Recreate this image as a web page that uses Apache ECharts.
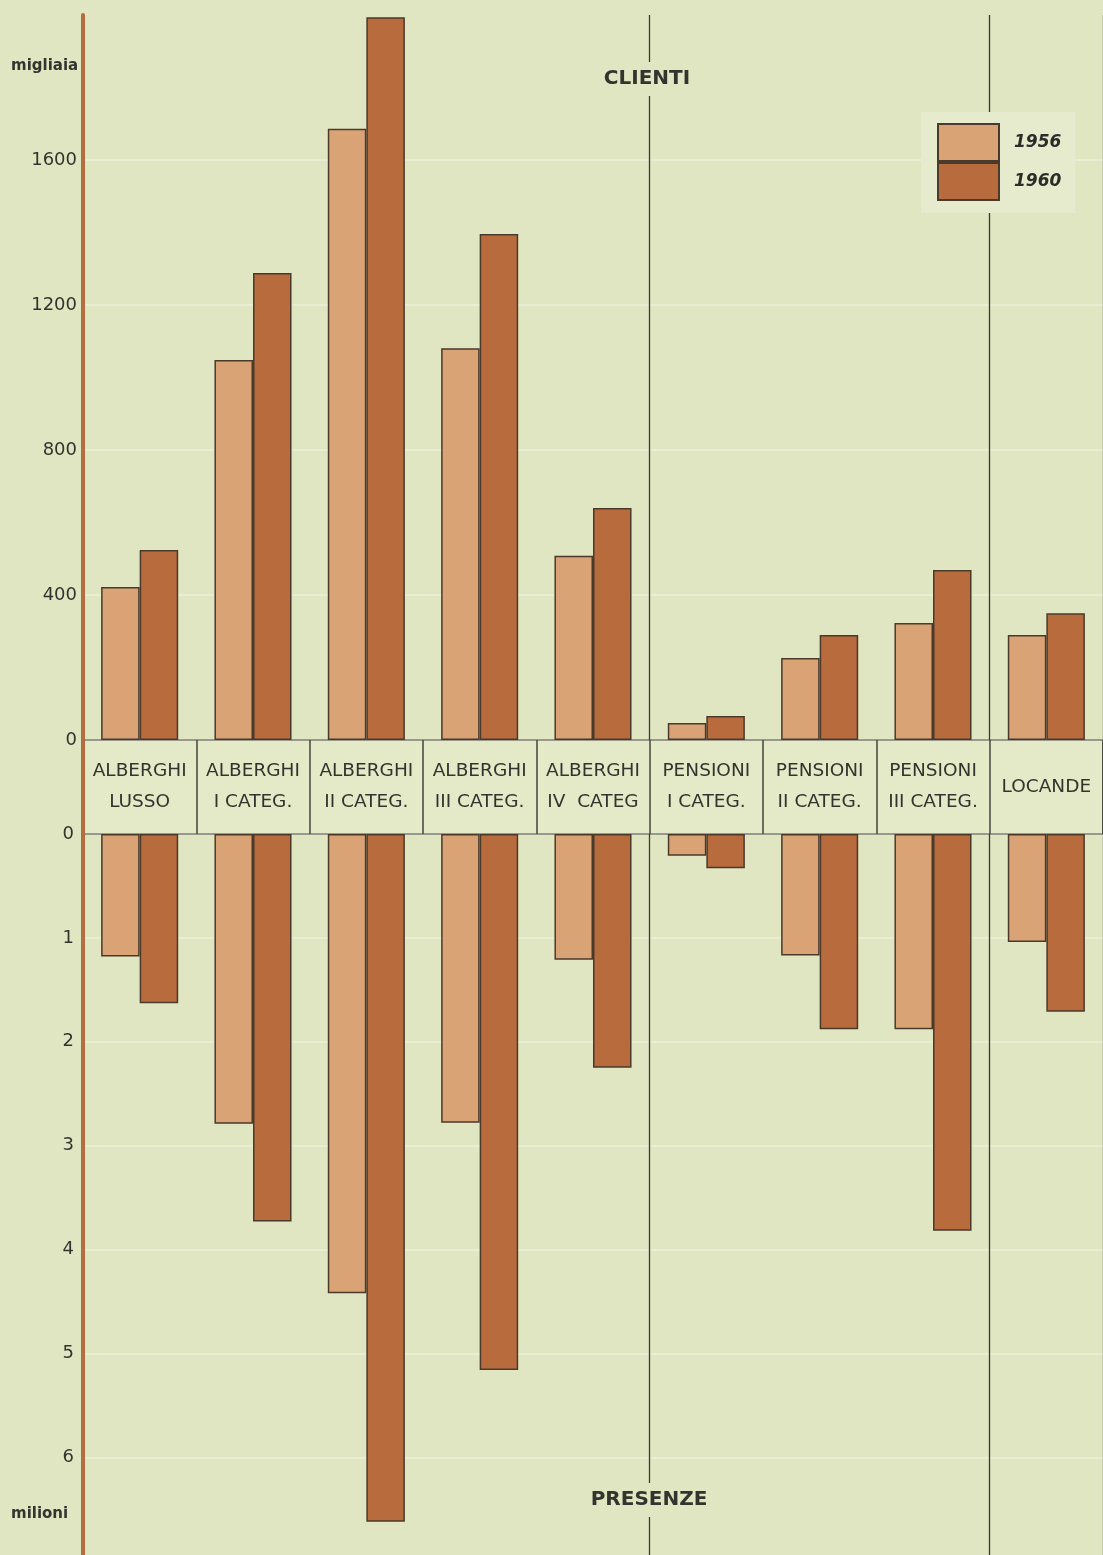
<!DOCTYPE html>
<html>
<head>
<meta charset="utf-8">
<script src="https://cdn.jsdelivr.net/npm/echarts@6/dist/echarts.min.js"></script>
<style>
  html, body { margin: 0; padding: 0; background: #dfe6c1; }
  #chart { width: 1103px; height: 1555px; }
</style>
</head>
<body>
<div id="chart"></div>
<script>
// categorie (etichette della fascia centrale)
const categories = [
  "ALBERGHI\nLUSSO", "ALBERGHI\nI CATEG.", "ALBERGHI\nII CATEG.", "ALBERGHI\nIII CATEG.",
  "ALBERGHI\nIV  CATEG", "PENSIONI\nI CATEG.", "PENSIONI\nII CATEG.", "PENSIONI\nIII CATEG.",
  "LOCANDE"
];
const years = ["1956", "1960"];
// clienti, migliaia
const clienti1956 = [422, 1048, 1686, 1081, 508, 47, 226, 323, 290];
const clienti1960 = [524, 1288, 1994, 1396, 640, 66, 290, 469, 350];
// presenze, milioni
const presenze1956 = [1.18, 2.79, 4.42, 2.78, 1.21, 0.21, 1.17, 1.88, 1.04];
const presenze1960 = [1.63, 3.73, 6.62, 5.16, 2.25, 0.33, 1.88, 3.82, 1.71];
const clientiTicks = [0, 400, 800, 1200, 1600];
const presenzeTicks = [0, 1, 2, 3, 4, 5, 6];

const bg = "#dfe6c1";
const ink = "#34342e";
const brown = "#b36d3e";
const colors = ["#d9a375", "#b86b3c"];
const font = "DejaVu Sans";

const chart = echarts.init(document.getElementById("chart"));

// linee verticali scure solo prima di PENSIONI I e LOCANDE
const bigSplit = (idx) => idx === 5 || idx === 8;

function barSeries(name, data, axisIdx, color) {
  return {
    name,
    type: "bar",
    xAxisIndex: axisIdx,
    yAxisIndex: axisIdx,
    data,
    barGap: "0%",
    barCategoryGap: "32%",
    itemStyle: { color, borderColor: "#4a3a2c", borderWidth: 1.5 },
  };
}

chart.setOption({
  backgroundColor: bg,
  animation: false,
  textStyle: { fontFamily: font },
  grid: [
    { left: 83, right: 0, top: 15, height: 725 },
    { left: 83, right: 0, top: 834, bottom: 0 },
    { left: 83, right: 0, top: 740, height: 94, show: true,
      backgroundColor: "#e4e9c7", borderColor: "#45453c", borderWidth: 1.5 },
  ],
  xAxis: [
    { gridIndex: 0, type: "category", data: categories,
      axisLine: { show: false }, axisTick: { show: false }, axisLabel: { show: false },
      splitLine: { show: true, interval: bigSplit, lineStyle: { color: "#3a3a34", width: 1.3 } } },
    { gridIndex: 1, type: "category", data: categories, position: "top",
      axisLine: { show: false }, axisTick: { show: false }, axisLabel: { show: false },
      splitLine: { show: true, interval: bigSplit, lineStyle: { color: "#3a3a34", width: 1.3 } } },
    { gridIndex: 2, type: "category", data: categories,
      axisLine: { show: false }, axisTick: { show: false },
      splitLine: { show: true, interval: 0, lineStyle: { color: "#45453c", width: 1.5 } },
      axisLabel: { inside: true, interval: 0, margin: 47, verticalAlign: "middle",
        color: ink, fontSize: 18.5, lineHeight: 31, fontFamily: font } },
  ],
  yAxis: [
    { gridIndex: 0, type: "value", min: 0, max: 2000, interval: 400,
      axisLine: { show: true, lineStyle: { color: brown, width: 4 } },
      axisTick: { show: false },
      axisLabel: { color: ink, fontSize: 18, margin: 6,
        formatter: (v) => (clientiTicks.includes(v) ? String(v) : "") },
      splitLine: { showMaxLine: false, lineStyle: { color: "rgba(255,255,255,0.3)", width: 2 } } },
    { gridIndex: 1, type: "value", min: 0, max: 6.94, interval: 1, inverse: true,
      axisLine: { show: true, lineStyle: { color: brown, width: 4 } },
      axisTick: { show: false },
      axisLabel: { color: ink, fontSize: 18, margin: 9,
        formatter: (v) => (presenzeTicks.includes(v) ? String(v) : "") },
      splitLine: { showMaxLine: false, lineStyle: { color: "rgba(255,255,255,0.3)", width: 2 } } },
    { gridIndex: 2, type: "value", min: 0, max: 1,
      axisLine: { show: true, lineStyle: { color: brown, width: 4 } },
      axisTick: { show: false }, axisLabel: { show: false }, splitLine: { show: false } },
  ],
  legend: {
    data: years,
    orient: "vertical",
    left: 921, top: 112,
    padding: [11, 14, 12, 16],
    backgroundColor: "#e6ebcd",
    itemWidth: 61, itemHeight: 37, itemGap: 0,
    icon: "rect",
    selectedMode: false,
    textStyle: { color: "#2c2c28", fontSize: 17, fontStyle: "italic", fontWeight: "bold",
      fontFamily: font, padding: [0, 0, 0, 10] },
  },
  graphic: [
    { type: "text", left: 11, top: 59, z: 100,
      style: { text: "migliaia", fill: ink, font: "bold 15px DejaVu Sans" } },
    { type: "text", left: 11, top: 1507, z: 100,
      style: { text: "milioni", fill: ink, font: "bold 15px DejaVu Sans" } },
    { type: "text", x: 647, y: 79, z: 100,
      style: { text: "CLIENTI", fill: ink, font: "bold 20px DejaVu Sans",
        align: "center", verticalAlign: "middle", backgroundColor: bg, padding: [7, 14] } },
    { type: "text", x: 649, y: 1500, z: 100,
      style: { text: "PRESENZE", fill: ink, font: "bold 20px DejaVu Sans",
        align: "center", verticalAlign: "middle", backgroundColor: bg, padding: [7, 14] } },
  ],
  series: [
    barSeries(years[0], clienti1956, 0, colors[0]),
    barSeries(years[1], clienti1960, 0, colors[1]),
    barSeries(years[0], presenze1956, 1, colors[0]),
    barSeries(years[1], presenze1960, 1, colors[1]),
  ],
});

window.addEventListener("resize", () => chart.resize());
</script>
</body>
</html>
